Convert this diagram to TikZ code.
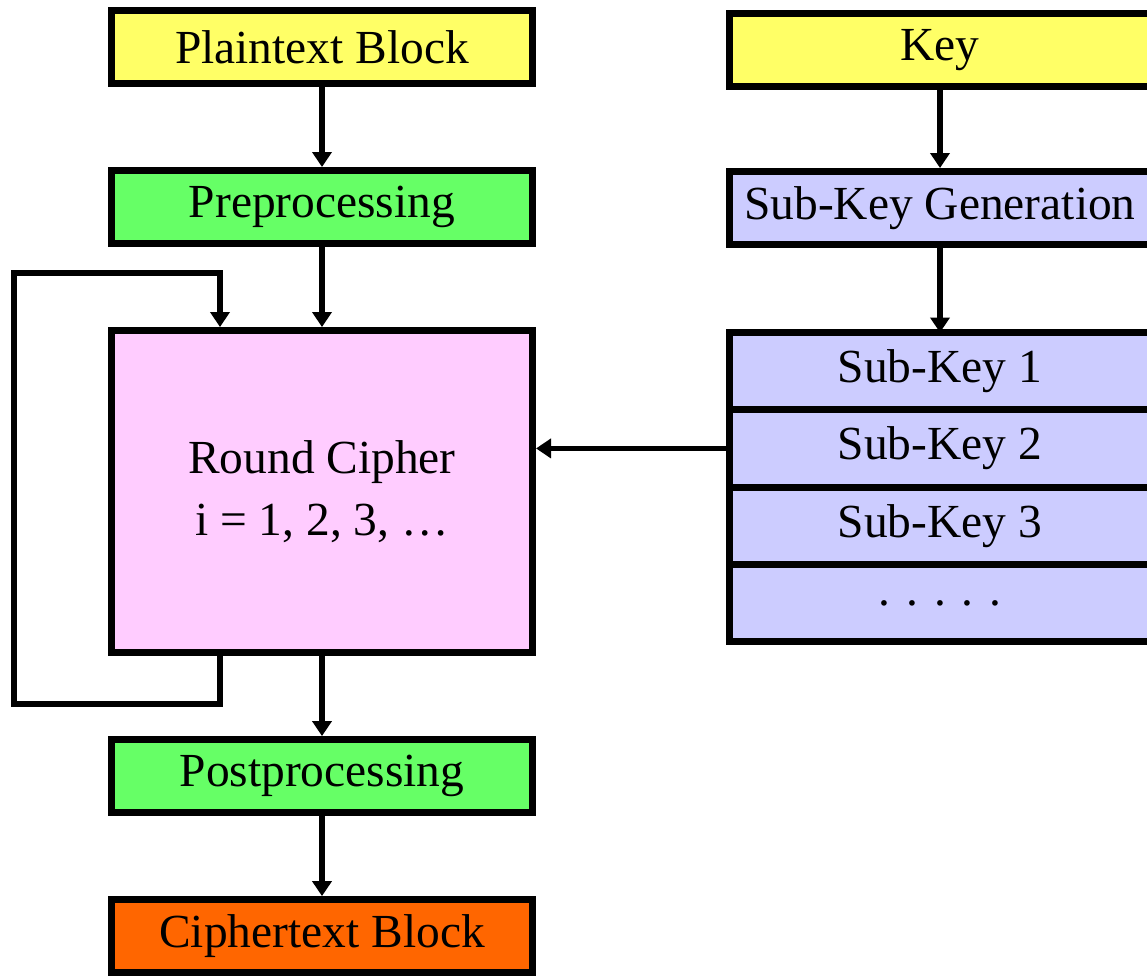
\documentclass[tikz,border=0pt]{standalone}
\usepackage{fontspec}
\setmainfont{Liberation Serif}
\usetikzlibrary{arrows.meta, positioning}
\definecolor{plainyellow}{RGB}{255,255,102}
\definecolor{stagegreen}{RGB}{102,255,102}
\definecolor{roundpink}{RGB}{255,204,255}
\definecolor{keylilac}{RGB}{204,204,255}
\definecolor{cipherorange}{RGB}{255,102,0}
\tikzstyle{stagebox} = [rectangle, draw=black, line width=4pt,
minimum width=8.42cm, minimum height=1.46cm,
align=center, font=\fontsize{27}{35}\selectfont]
\tikzstyle{subkeybox} = [stagebox, fill=keylilac, minimum height=1.545cm, outer sep=0pt]
\tikzstyle{arrow} = [-{Triangle[length=0.3cm, width=0.38cm]}, line width=3pt]

\begin{document}
\begin{tikzpicture}[node distance=1.6cm]
    \useasboundingbox (0,0) rectangle (22.94,-19.54);
    \clip (0,0) rectangle (22.94,-19.54);

    % cipher path
    \node (plain)  [stagebox, fill=plainyellow] at (6.44,-0.94) {Plaintext Block};
    \node (pre)    [stagebox, fill=stagegreen, below=of plain] {Preprocessing};
    \node (round)  [stagebox, fill=roundpink, minimum height=6.44cm, below=of pre] {Round Cipher\\ i = 1, 2, 3, …};
    \node (post)   [stagebox, fill=stagegreen, below=of round] {Postprocessing};
    \node (cipher) [stagebox, fill=cipherorange, below=of post] {Ciphertext Block};

    % key schedule
    \node (key)    [stagebox, fill=plainyellow] at (18.8,-1.0) {Key};
    \node (subgen) [stagebox, fill=keylilac, below=1.56cm of key] {Sub-Key Generation};
    \node (sk1)    [subkeybox, below=1.69cm of subgen] {Sub-Key 1};
    \node (sk2)    [subkeybox, below=0pt of sk1] {Sub-Key 2};
    \node (sk3)    [subkeybox, below=0pt of sk2] {Sub-Key 3};
    \node (skmore) [subkeybox, below=0pt of sk3] {. . . . .};

    \draw[arrow] (plain)  -- (pre);
    \draw[arrow] (pre)    -- (round);
    \draw[arrow] (round)  -- (post);
    \draw[arrow] (post)   -- (cipher);
    \draw[arrow] (key)    -- (subgen);
    \draw[arrow] (subgen) -- (sk1);
    \draw[arrow] (sk2.west) -- (sk2.west -| round.east);

    % feedback over the rounds
    \draw[arrow, line cap=rect] ([xshift=-2.04cm]round.south) |- ++(-4.12,-0.96)
        |- ([xshift=-2.04cm, yshift=1.08cm]round.north) -- ([xshift=-2.04cm]round.north);
\end{tikzpicture}
\end{document}
